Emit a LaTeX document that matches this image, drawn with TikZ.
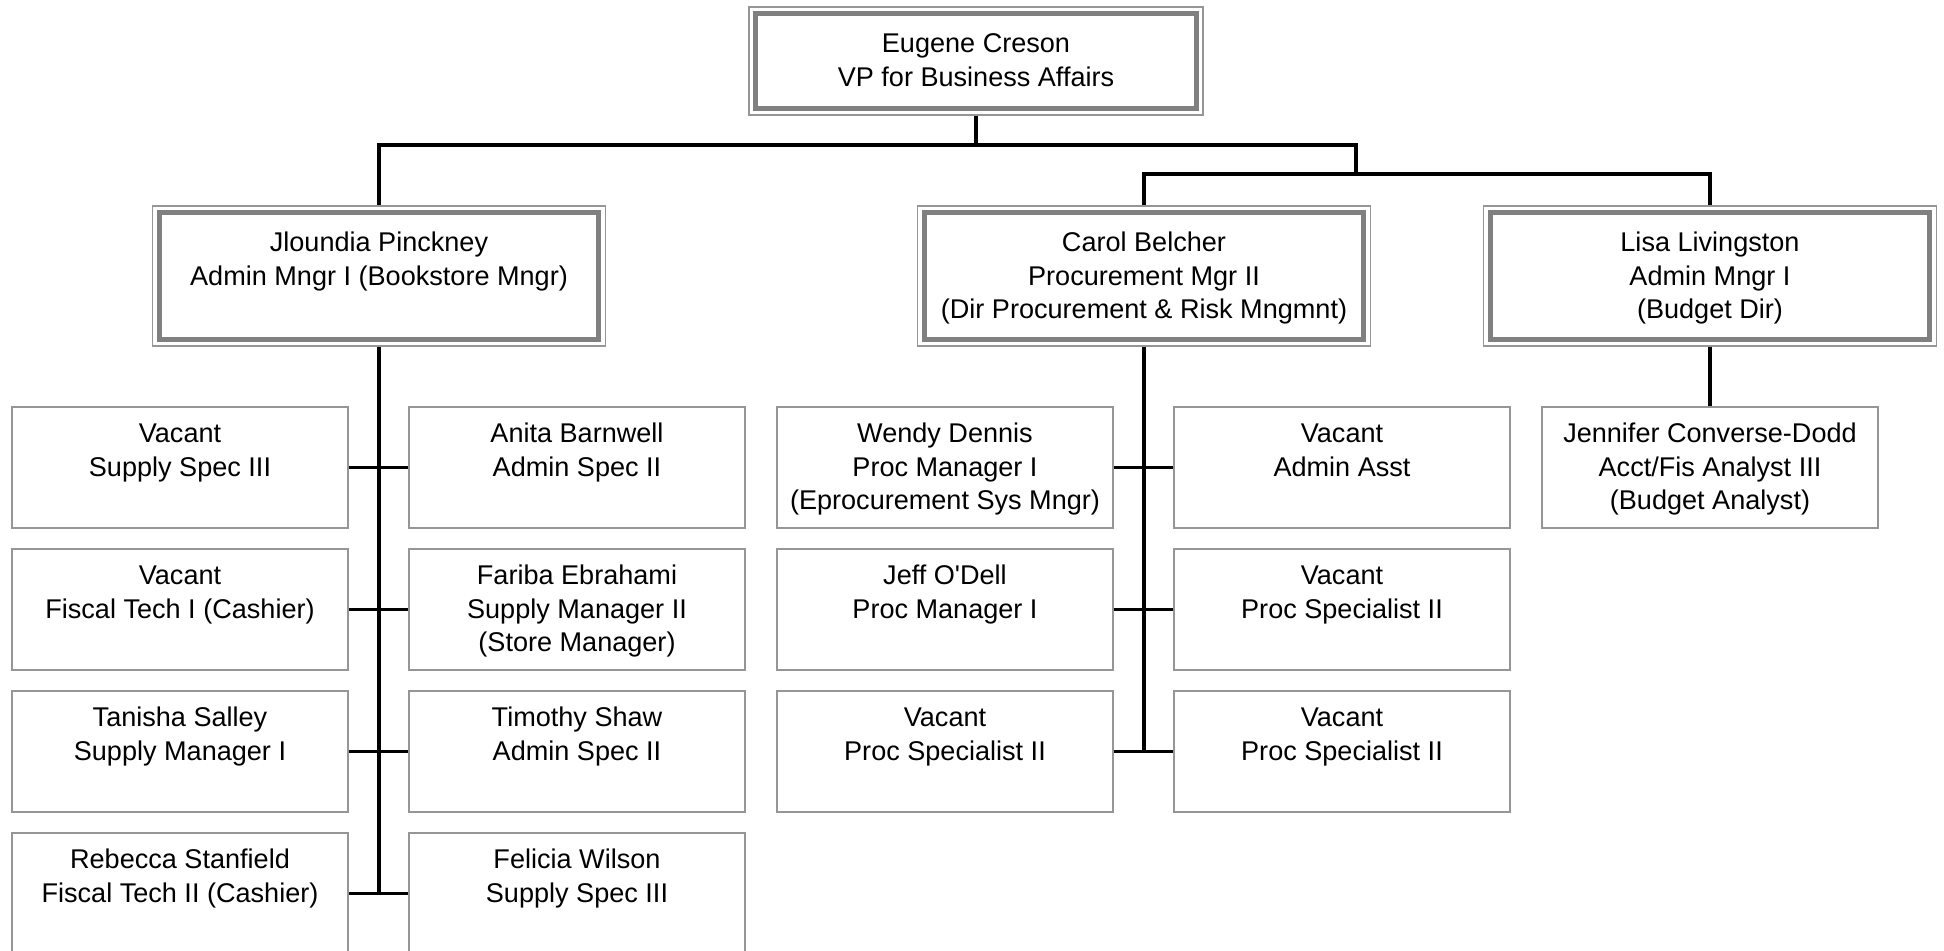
\documentclass[tikz,border=0pt]{standalone}
\usepackage{fontspec}
\setmainfont{Liberation Sans}[Ligatures=TeXOff]
\definecolor{thinline}{RGB}{150,150,150}
\definecolor{thickline}{RGB}{128,128,128}
\newcommand\tbox[4]{\parbox[c][#2][t]{#1}{\centering\rule{0pt}{#3}#4}}
\newcommand\stfbox[1]{\tbox{3.36cm}{1.21cm}{0.36cm}{#1}}
\newcommand\mgrbox[1]{\tbox{4.53cm}{1.40cm}{0.46cm}{#1}}
\begin{document}
\begin{tikzpicture}[x=0.01cm,y=-0.01cm,
  txt/.style={font=\fontsize{7.7pt}{9.5pt}\selectfont},
  staff/.style={draw=thinline, line width=0.45pt, inner sep=0pt, txt},
  mgr/.style={draw=thinline, line width=0.45pt, inner sep=0pt, txt},
  innerframe/.style={draw=thickline, line width=1.4pt},
  conn/.style={draw=black, line width=0.9pt}]
\fill[white] (0,0) rectangle (1944,951);
\useasboundingbox (0,0) rectangle (1944,951);
% top
\node[mgr] (vp) at (976,61) {\tbox{4.54cm}{1.08cm}{0.46cm}{Eugene Creson\\VP for Business Affairs}};
% managers
\node[mgr] (jp) at (379,276) {\mgrbox{Jloundia Pinckney\\Admin Mngr I (Bookstore Mngr)}};
\node[mgr] (cb) at (1144,276) {\mgrbox{Carol Belcher\\Procurement Mgr II\\(Dir Procurement \& Risk Mngmnt)}};
\node[mgr] (ll) at (1710,276) {\mgrbox{Lisa Livingston\\Admin Mngr I\\(Budget Dir)}};
\foreach \n in {vp,jp,cb,ll}
  \draw[innerframe] ([shift={(7.5,7.5)}]\n.north west) rectangle ([shift={(-7.5,-7.5)}]\n.south east);
% Jloundia staff
\node[staff] (l1) at (180,467.5) {\stfbox{Vacant\\Supply Spec III}};
\node[staff] (r1) at (577,467.5) {\stfbox{Anita Barnwell\\Admin Spec II}};
\node[staff] (l2) at (180,609.5) {\stfbox{Vacant\\Fiscal Tech I (Cashier)}};
\node[staff] (r2) at (577,609.5) {\stfbox{Fariba Ebrahami\\Supply Manager II\\(Store Manager)}};
\node[staff] (l3) at (180,751.5) {\stfbox{Tanisha Salley\\Supply Manager I}};
\node[staff] (r3) at (577,751.5) {\stfbox{Timothy Shaw\\Admin Spec II}};
\node[staff] (l4) at (180,893.5) {\stfbox{Rebecca Stanfield\\Fiscal Tech II (Cashier)}};
\node[staff] (r4) at (577,893.5) {\stfbox{Felicia Wilson\\Supply Spec III}};
% Carol staff
\node[staff] (cl1) at (945,467.5) {\stfbox{Wendy Dennis\\Proc Manager I\\(Eprocurement Sys Mngr)}};
\node[staff] (cr1) at (1342,467.5) {\stfbox{Vacant\\Admin Asst}};
\node[staff] (cl2) at (945,609.5) {\stfbox{Jeff O'Dell\\Proc Manager I}};
\node[staff] (cr2) at (1342,609.5) {\stfbox{Vacant\\Proc Specialist II}};
\node[staff] (cl3) at (945,751.5) {\stfbox{Vacant\\Proc Specialist II}};
\node[staff] (cr3) at (1342,751.5) {\stfbox{Vacant\\Proc Specialist II}};
% Lisa staff
\node[staff] (jc) at (1710,467.5) {\stfbox{Jennifer Converse-Dodd\\Acct/Fis Analyst III\\(Budget Analyst)}};
% connectors
\coordinate (hub1) at (976,145);
\coordinate (hub2) at (1356,174);
\draw[conn] (vp.south) -- (hub1) -| (jp.north);
\draw[conn] (hub1) -| (hub2);
\draw[conn] (hub2) -| (cb.north);
\draw[conn] (hub2) -| (ll.north);
\draw[conn] (jp.south) -- (jp.south |- r4.west);
\foreach \a/\b in {l1/r1,l2/r2,l3/r3,l4/r4,cl1/cr1,cl2/cr2,cl3/cr3}
  \draw[conn] (\a.east) -- (\b.west);
\draw[conn] (cb.south) -- (cb.south |- cr3.west);
\draw[conn] (ll.south) -- (jc.north);
\end{tikzpicture}
\end{document}
